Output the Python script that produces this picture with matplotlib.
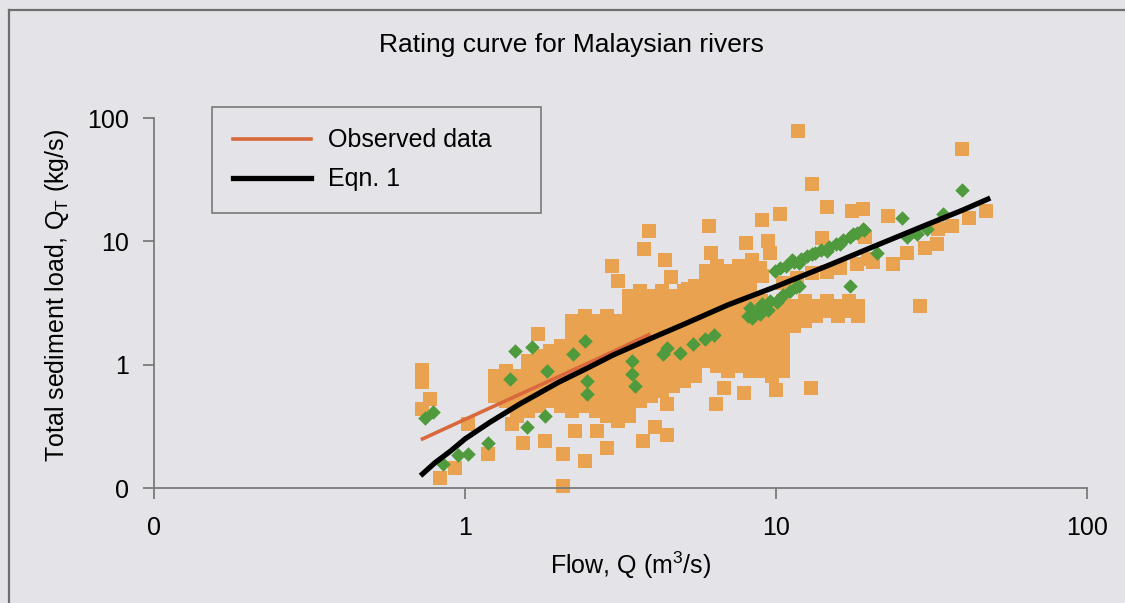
import matplotlib.pyplot as plt
from matplotlib.lines import Line2D

plt.rcParams['font.family'] = ['Liberation Sans', 'DejaVu Sans']
plt.rcParams['mathtext.default'] = 'regular'

# fitted curves (flow m3/s, load kg/s)
eqn_flow = [0.73, 0.8, 0.9, 1.0, 1.2, 1.5, 2.0, 2.5, 3.0, 4.0, 5.0, 7.0, 10, 15, 20, 30, 40, 48]
eqn_load = [0.13, 0.16, 0.2, 0.25, 0.34, 0.48, 0.72, 0.95, 1.2, 1.65, 2.1, 3.05, 4.3, 6.5, 8.8, 13.4, 18.0, 22.0]
obs_line_flow = [0.73, 1.0, 2.0, 3.0, 3.9]
obs_line_load = [0.25, 0.36, 0.80, 1.28, 1.75]

# scattered orange squares
pts_flow = [11.8, 39.5, 13.1, 14.6, 17.5, 19.0, 22.9, 10.3, 9.0, 6.1, 3.9, 14.1, 8.0, 9.4, 9.6,
            8.4, 7.7, 3.75, 6.2, 2.97, 3.1, 4.4, 4.6, 5.2, 19.4, 8.9, 9.0,
            47.5, 41.9, 36.8, 33.2, 32.9, 30.1, 26.3, 23.8, 20.5, 29.0,
            10.5, 11.7, 13.1, 14.6, 16.1, 18.2, 19.7,
            13.0, 10.0, 7.9, 6.8, 6.4, 4.46, 4.08, 4.46, 3.73, 2.86, 2.43, 2.66, 2.26,
            2.07, 2.07, 1.81, 1.54, 1.42, 1.19, 1.02, 0.93, 0.83, 1.72,
            0.73, 0.73, 0.77, 0.73]
pts_load = [79, 56, 29, 19, 17.7, 18.2, 16.2, 16.8, 15.0, 13.2, 12.2, 10.7, 9.7, 10.1, 8.1,
            7.0, 5.5, 8.6, 8.1, 6.35, 4.8, 7.0, 5.1, 4.1, 10.8, 6.1, 5.2,
            17.7, 15.6, 13.4, 12.7, 9.5, 8.8, 8.1, 6.6, 6.8, 3.0,
            4.6, 5.0, 5.5, 5.6, 6.1, 6.6, 7.2,
            0.65, 0.62, 0.59, 0.65, 0.48, 0.48, 0.31, 0.27, 0.24, 0.21, 0.166, 0.29, 0.29,
            0.19, 0.104, 0.24, 0.23, 0.33, 0.19, 0.33, 0.146, 0.12, 1.78,
            0.91, 0.73, 0.53, 0.44]

# dense part of the cloud, read column by column
cloud_flow = [1.25, 1.35, 1.47, 1.59, 1.73, 1.88, 2.03, 2.21,
              2.43, 2.64, 2.86, 3.10, 3.37, 3.65, 3.96, 4.30, 4.66, 5.06, 5.49, 5.95, 6.46, 7.0, 7.6, 8.26,
              8.95, 9.7, 10.5, 11.4, 12.4, 13.4, 14.6, 15.8, 17.2, 18.4]
cloud_load = [
    [0.81, 0.675, 0.56],
    [0.894, 0.742, 0.615, 0.511],
    [0.81, 0.675, 0.56, 0.465, 0.386],
    [1.08, 0.894, 0.742, 0.615, 0.511, 0.424],
    [1.18, 0.98, 0.81, 0.675, 0.56, 0.465],
    [1.30, 1.08, 0.894, 0.742, 0.615, 0.511],
    [1.43, 1.18, 0.98, 0.81, 0.675, 0.56, 0.465],
    [2.27, 1.89, 1.57, 1.30, 1.08, 0.894, 0.742, 0.615, 0.511, 0.424],
    [2.5, 2.07, 1.72, 1.43, 1.18, 0.98, 0.81, 0.675, 0.56, 0.465],
    [2.27, 1.89, 1.57, 1.30, 1.08, 0.894, 0.742, 0.615, 0.511, 0.424],
    [2.5, 2.07, 1.72, 1.43, 1.18, 0.98, 0.81, 0.675, 0.56, 0.465, 0.386],
    [2.27, 1.89, 1.57, 1.30, 1.08, 0.894, 0.742, 0.615, 0.511, 0.424, 0.351],
    [3.63, 3.01, 2.5, 2.07, 1.72, 1.43, 1.18, 0.98, 0.81, 0.675, 0.56, 0.465, 0.386],
    [3.98, 3.30, 2.74, 2.27, 1.89, 1.57, 1.30, 1.08, 0.894, 0.742, 0.615, 0.511],
    [3.63, 3.01, 2.5, 2.07, 1.72, 1.43, 1.18, 0.98, 0.81, 0.675, 0.56],
    [3.98, 3.30, 2.74, 2.27, 1.89, 1.57, 1.30, 1.08, 0.894, 0.742, 0.615],
    [3.63, 3.01, 2.5, 2.07, 1.72, 1.43, 1.18, 0.98, 0.81, 0.675],
    [3.98, 3.30, 2.74, 2.27, 1.89, 1.57, 1.30, 1.08, 0.894, 0.742],
    [4.37, 3.63, 3.01, 2.5, 2.07, 1.72, 1.43, 1.18, 0.98, 0.81],
    [5.78, 4.80, 3.98, 3.30, 2.74, 2.27, 1.89, 1.57, 1.30, 1.08],
    [6.35, 5.27, 4.37, 3.63, 3.01, 2.5, 2.07, 1.72, 1.43, 1.18, 0.98],
    [5.78, 4.80, 3.98, 3.30, 2.74, 2.27, 1.89, 1.57, 1.30, 1.08, 0.894],
    [6.35, 5.27, 4.37, 3.63, 3.01, 2.5, 2.07, 1.72, 1.43, 1.18, 0.98],
    [5.78, 4.80, 3.98, 3.30, 2.74, 2.27, 1.89, 1.57, 1.30, 1.08, 0.894],
    [3.30, 2.74, 2.27, 1.89, 1.57, 1.30, 1.08, 0.894],
    [3.01, 2.5, 2.07, 1.72, 1.43, 1.18, 0.98, 0.81],
    [3.30, 2.74, 2.27, 1.89, 1.57, 1.30, 1.08, 0.894],
    [3.01, 2.5, 2.07],
    [3.30, 2.74, 2.27],
    [3.01, 2.5],
    [3.30, 2.74],
    [3.01, 2.5],
    [3.30, 2.74],
    [3.01, 2.5],
]

# green diamonds
green_flow = [1.45, 1.64, 2.22, 1.83, 1.81, 1.58, 1.19, 1.02, 0.95, 0.85, 0.744, 0.79, 1.40,
              2.43, 2.47, 2.47, 3.44, 3.44, 4.46, 4.33, 5.4, 4.92, 3.51, 5.9, 6.3,
              8.26, 8.9, 9.57, 10.3, 11.1, 11.9, 8.4, 8.6, 9.0, 9.4, 10.1, 10.5, 11.6, 8.1,
              9.9, 10.8, 11.9, 11.3, 13.1, 14.6, 16.1, 17.7, 19.0, 21.1, 25.5, 17.3,
              10.3, 11.4, 12.0, 12.6, 13.3, 14.0, 14.8, 15.6, 16.4, 17.3, 18.2, 19.2,
              26.4, 28.5, 39.6, 34.4, 30.6]
green_load = [1.30, 1.40, 1.23, 0.894, 0.386, 0.31, 0.233, 0.19, 0.185, 0.157, 0.37, 0.41, 0.77,
              1.57, 0.742, 0.58, 1.08, 0.845, 1.37, 1.23, 1.48, 1.25, 0.675, 1.6, 1.75,
              2.9, 2.59, 3.30, 3.49, 3.98, 4.37, 2.4, 2.7, 3.1, 2.8, 3.2, 3.7, 4.3, 2.5,
              5.8, 6.35, 6.7, 7.0, 7.9, 8.4, 9.6, 11.5, 12.6, 8.1, 15.6, 4.37,
              6.1, 6.8, 7.2, 7.6, 8.0, 8.5, 9.0, 9.6, 10.2, 10.9, 11.6, 12.3,
              10.8, 11.5, 26.3, 16.7, 12.7]

bg = '#e4e3e8'
fs = 18
fig = plt.figure(figsize=(11.25, 6.03), dpi=100, facecolor=bg)
ax = fig.add_axes([0.1369, 0.1907, 0.8293, 0.6136])
ax.set_facecolor(bg)

sq_x = list(pts_flow)
sq_y = list(pts_load)
for q, loads in zip(cloud_flow, cloud_load):
    sq_x += [q] * len(loads)
    sq_y += loads

ax.scatter(sq_x, sq_y, marker='s', s=105, color='#e9a24f', linewidths=0, clip_on=False, zorder=2)
ax.scatter(green_flow, green_load, marker='D', s=55, color='#4f9a3c', linewidths=0, clip_on=False, zorder=3)
ax.plot(obs_line_flow, obs_line_load, color='#d9693c', lw=2.6, zorder=4, label='Observed data')
ax.plot(eqn_flow, eqn_load, color='black', lw=3.8, zorder=5, label='Eqn. 1')

ax.set_xscale('log')
ax.set_yscale('log')
ax.set_xlim(0.1, 100)
ax.set_ylim(0.1, 100)
ticks = [0.1, 1, 10, 100]
labels = ['0', '1', '10', '100']
ax.set_xticks(ticks, labels)
ax.set_yticks(ticks, labels)
ax.minorticks_off()

for side in ['top', 'right']:
    ax.spines[side].set_visible(False)
for side in ['left', 'bottom']:
    ax.spines[side].set_color('#7a7a7a')
    ax.spines[side].set_linewidth(1.3)
ax.tick_params(axis='both', direction='out', length=8, width=1.3, color='#7a7a7a', labelsize=fs)
ax.tick_params(axis='x', pad=12)
ax.tick_params(axis='y', pad=10)

ax.set_xlabel('Flow, Q (m$^3$/s)', fontsize=fs)
ax.xaxis.set_label_coords(0.511, -0.208)
ax.xaxis.label.set_va('center')
ax.set_ylabel('Total sediment load, Q$_T$ (kg/s)', fontsize=fs)
ax.yaxis.set_label_coords(-0.104, 0.52)
ax.yaxis.label.set_va('center')

fig.text(571 / 1125, 1 - 45 / 603, 'Rating curve for Malaysian rivers', ha='center', va='center', fontsize=19)

leg = ax.legend(loc='upper left', bbox_to_anchor=(212 / 1125, 1 - 107 / 603 - 0.01, 329 / 1125, 0.01),
                bbox_transform=fig.transFigure, mode='expand', fontsize=fs, frameon=True, fancybox=False,
                handlelength=3.1, handletextpad=0.7, labelspacing=0.6, borderpad=0.85, borderaxespad=0)
leg.get_frame().set_facecolor(bg)
leg.get_frame().set_edgecolor('#7a7a7a')
leg.get_frame().set_linewidth(1.2)
leg.get_frame().set_alpha(1)

# page frame around the chart
fig.add_artist(Line2D([9 / 1125, 9 / 1125], [0, 1 - 10 / 603], transform=fig.transFigure, color='#6e6e6e', lw=1.6))
fig.add_artist(Line2D([9 / 1125, 1], [1 - 10 / 603, 1 - 10 / 603], transform=fig.transFigure, color='#6e6e6e', lw=1.6))

fig.savefig('out.png', dpi=100, facecolor=bg)
